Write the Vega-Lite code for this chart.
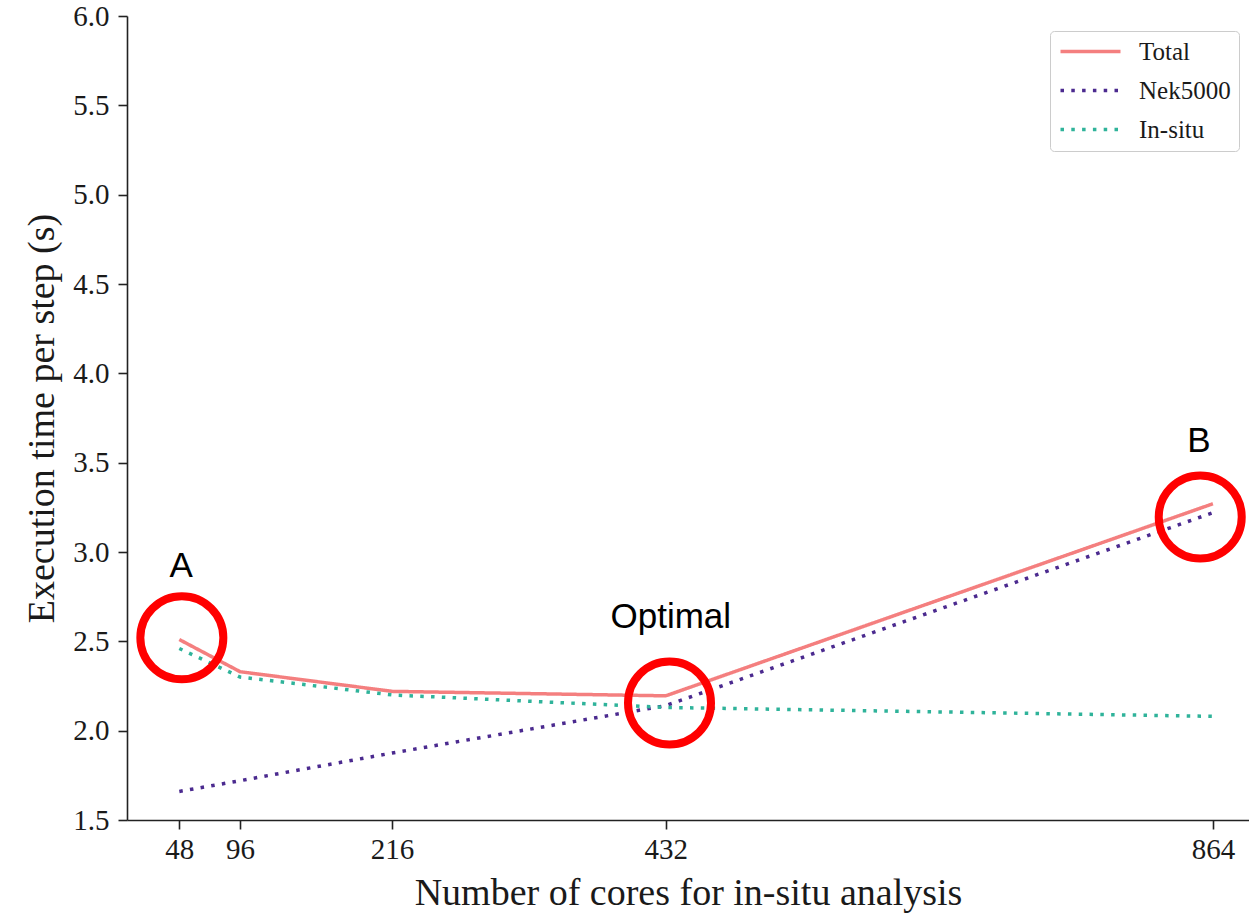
{
  "$schema": "https://vega.github.io/schema/vega-lite/v6.json",
  "autosize": {"type": "none"},
  "padding": {"left": 127, "top": 16, "right": 0, "bottom": 94},
  "width": 1122,
  "height": 804,
  "background": "white",
  "config": {
    "view": {"stroke": null},
    "axis": {
      "labelFont": "Liberation Serif",
      "titleFont": "Liberation Serif",
      "labelFontSize": 29,
      "titleFontSize": 38,
      "titleFontWeight": "normal",
      "labelColor": "#1a1a1a",
      "titleColor": "#1a1a1a",
      "domainColor": "#222222",
      "domainWidth": 1.6,
      "tickColor": "#222222",
      "tickWidth": 1.6,
      "tickSize": 9,
      "grid": false
    }
  },
  "datasets": {
    "series": [
      {"series": "Total", "cores": 48, "time": 2.51},
      {"series": "Total", "cores": 96, "time": 2.33},
      {"series": "Total", "cores": 216, "time": 2.22},
      {"series": "Total", "cores": 432, "time": 2.195},
      {"series": "Total", "cores": 864, "time": 3.27},
      {"series": "Nek5000", "cores": 48, "time": 1.66},
      {"series": "Nek5000", "cores": 96, "time": 1.72},
      {"series": "Nek5000", "cores": 216, "time": 1.875},
      {"series": "Nek5000", "cores": 432, "time": 2.14},
      {"series": "Nek5000", "cores": 864, "time": 3.22},
      {"series": "In-situ", "cores": 48, "time": 2.46},
      {"series": "In-situ", "cores": 96, "time": 2.30},
      {"series": "In-situ", "cores": 216, "time": 2.20},
      {"series": "In-situ", "cores": 432, "time": 2.13},
      {"series": "In-situ", "cores": 864, "time": 2.08}
    ],
    "marks": [
      {"name": "A", "cores": 50, "time": 2.52, "labelCores": 49.5, "labelTime": 2.861},
      {"name": "Optimal", "cores": 435, "time": 2.155, "labelCores": 436, "labelTime": 2.573},
      {"name": "B", "cores": 854, "time": 3.196, "labelCores": 853, "labelTime": 3.561}
    ]
  },
  "layer": [
    {
      "mark": {"type": "rule", "color": "#222222", "strokeWidth": 1.6},
      "encoding": {"y": {"datum": 6.0, "type": "quantitative"}}
    },
    {
      "data": {"name": "series"},
      "mark": {"type": "line", "strokeWidth": 3.5, "strokeCap": "butt"},
      "encoding": {
        "x": {
          "field": "cores", "type": "quantitative",
          "scale": {"domain": [6.7, 892.5], "nice": false, "zero": false},
          "axis": {"values": [48, 96, 216, 432, 864], "title": "Number of cores for in-situ analysis", "labelPadding": 6, "titlePadding": 10}
        },
        "y": {
          "field": "time", "type": "quantitative",
          "scale": {"domain": [1.5, 6.0], "nice": false, "zero": false},
          "axis": {"values": [1.5, 2.0, 2.5, 3.0, 3.5, 4.0, 4.5, 5.0, 5.5, 6.0], "format": ".1f", "title": "Execution time per step (s)", "labelPadding": 9, "titlePadding": 11}
        },
        "color": {
          "field": "series", "type": "nominal",
          "scale": {"domain": ["Total", "Nek5000", "In-situ"], "range": ["#f47f7f", "#4b2a8f", "#2fb39a"]},
          "legend": {
            "title": null,
            "orient": "none",
            "legendX": 923,
            "legendY": 15,
            "padding": 8,
            "strokeColor": "#cccccc",
            "fillColor": "white",
            "cornerRadius": 4,
            "symbolType": "M -1,0 H 5",
            "symbolSize": 400,
            "symbolStrokeWidth": 3.5,
            "labelOffset": 56,
            "labelFont": "Liberation Serif",
            "labelFontSize": 25,
            "labelColor": "#1a1a1a",
            "rowPadding": 13
          }
        },
        "strokeDash": {
          "field": "series", "type": "nominal",
          "scale": {"domain": ["Total", "Nek5000", "In-situ"], "range": [[1, 0], [3.5, 7.3], [3.5, 7.3]]},
          "legend": null
        },
        "order": {"field": "cores", "type": "quantitative"}
      }
    },
    {
      "data": {"name": "marks"},
      "mark": {"type": "point", "shape": "circle", "size": 6889, "filled": false, "stroke": "#ff0000", "strokeWidth": 8, "opacity": 1},
      "encoding": {
        "x": {"field": "cores", "type": "quantitative"},
        "y": {"field": "time", "type": "quantitative"}
      }
    },
    {
      "data": {"name": "marks"},
      "mark": {"type": "text", "font": "Liberation Sans", "fontSize": 35, "color": "#000000", "baseline": "alphabetic", "align": "center"},
      "encoding": {
        "x": {"field": "labelCores", "type": "quantitative"},
        "y": {"field": "labelTime", "type": "quantitative"},
        "text": {"field": "name"}
      }
    }
  ]
}
